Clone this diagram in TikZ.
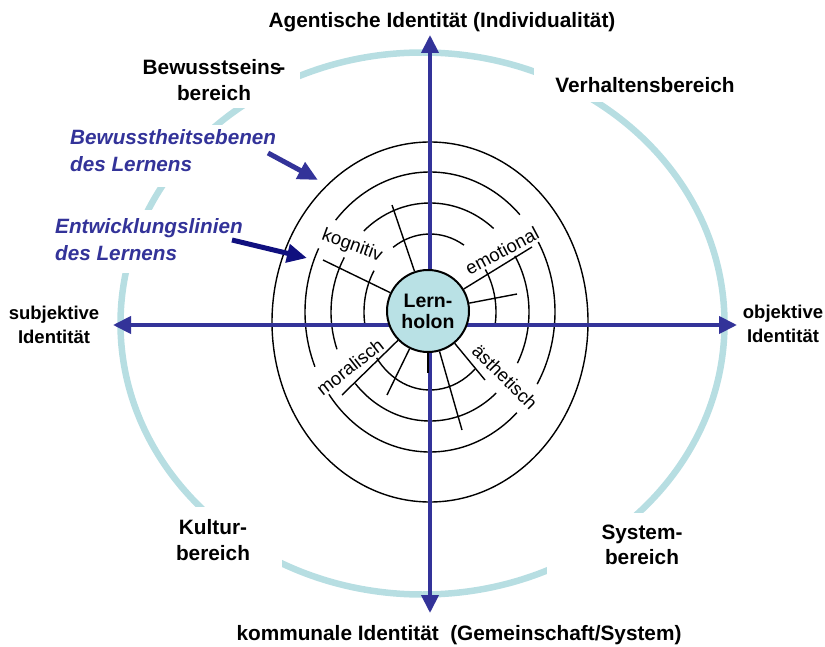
\documentclass[tikz,border=0pt]{standalone}
\usepackage{fontspec}
\setmainfont{Liberation Sans}
\usetikzlibrary{arrows.meta}
\definecolor{axisblue}{HTML}{333399}
\definecolor{navyarrow}{HTML}{10107F}
\definecolor{ringcyan}{HTML}{B7DEE2}
\definecolor{holonfill}{HTML}{B9E1E5}

% one arc of a level ring around the holon, angles counted counter-clockwise
\newcommand\levelarc[4]{%
  \draw[ring] ({430+#1*cos(#3)},{312-#2*sin(#3)})
    arc[start angle=-#3, end angle=-#4, x radius=#1, y radius=#2];}

\begin{document}
\begin{tikzpicture}[x=1pt,y=-1pt,
  arealbl/.style={font=\fontsize{20.8}{25.5}\selectfont\bfseries, align=center, inner sep=0pt},
  polelbl/.style={font=\fontsize{18.5}{24}\selectfont\bfseries, align=center, inner sep=0pt},
  bluelbl/.style={font=\fontsize{20.7}{27}\selectfont\bfseries\itshape, text=axisblue, align=left, inner sep=0pt, anchor=west},
  linelbl/.style={font=\fontsize{18.5}{20}\selectfont, inner sep=0pt},
  axisline/.style={draw=axisblue, line width=4pt, {Triangle[length=18pt,width=17pt]}-{Triangle[length=18pt,width=17pt]}},
  ring/.style={draw=black, line width=1.4pt},
  spoke/.style={draw=black, line width=1.4pt},
  pointer/.style={line width=5pt, -{Triangle[length=20pt,width=18pt]}},
  cutout/.style={fill=white}
]
\useasboundingbox (0,0) rectangle (825,647);

% outer domain ellipse
\draw[ringcyan, line width=6.5pt] (422.5,323.5) ellipse [x radius=302, y radius=271];

% white boxes behind the quadrant and side labels break the ellipse
\fill[cutout] (130,50) rectangle (300,108);
\fill[cutout] (534,60) rectangle (760,102);
\fill[cutout] (150,507) rectangle (282,580);
\fill[cutout] (547,513) rectangle (700,590);
\fill[cutout] (50,125) rectangle (285,187);
\fill[cutout] (40,210) rectangle (250,273);

% levels of awareness: closed outer level, inner levels broken at the line labels
\draw[ring] (430,322) ellipse [x radius=158, y radius=180];
\levelarc{125}{140}{44}{139}
\levelarc{125}{140}{153}{203}
\levelarc{125}{140}{216}{314}
\levelarc{125}{140}{329}{390}
\levelarc{99}{109}{50}{132}
\levelarc{99}{109}{150}{200}
\levelarc{99}{109}{221}{312}
\levelarc{99}{109}{332}{391}
\levelarc{66}{78}{59}{124}
\levelarc{66}{78}{148}{190}
\levelarc{66}{78}{216}{313}
\levelarc{66}{78}{349}{393}

% identity axes
\coordinate (axN) at (430,35);
\coordinate (axS) at (430,613);
\coordinate (axW) at (113,325);
\coordinate (axE) at (737,325);
\draw[axisline] (axS) -- (axN);
\draw[axisline] (axW) -- (axE);

% development lines
\node[linelbl, rotate=-20] (kog) at (352,246) {kognitiv};
\node[linelbl, rotate=28] (emo) at (502,251) {emotional};
\node[linelbl, rotate=38] (mor) at (350,367) {moralisch};
\node[linelbl, rotate=-45] (aes) at (505,377) {ästhetisch};

% central holon
\node[circle, draw=black, line width=2pt, fill=holonfill, minimum size=82pt, inner sep=0pt,
      font=\fontsize{19.5}{21}\selectfont\bfseries, align=center] (lh) at (428,311) {Lern-\\holon};

\coordinate (s1) at (392,205);
\coordinate (s2) at (323,260);
\coordinate (s3) at (532,247);
\coordinate (s4) at (517,294);
\coordinate (s5) at (342,395);
\coordinate (s6) at (387,395);
\coordinate (s7) at (428,373);
\coordinate (s8) at (462,430);
\coordinate (s9) at (485,380);
\foreach \s in {s1,s2,s3,s4,s5,s6,s7,s8,s9}
  \draw[spoke] (lh) -- (\s);

% axis and quadrant labels
\node[arealbl] (agent) at (442,22) {Agentische Identität (Individualität)};
\node[arealbl] (komm) at (459,635) {kommunale Identität\ \ (Gemeinschaft/System)};
\node[polelbl] (subj) at (54,325) {subjektive\\Identität};
\node[polelbl] (obj) at (783,324) {objektive\\Identität};
\node[arealbl] (bew) at (214,80) {Bewusstseins\kern-3pt-\\bereich};
\node[arealbl] (verh) at (645,85) {Verhaltensbereich};
\node[arealbl] (kult) at (213,540) {Kultur-\\bereich};
\node[arealbl] (syst) at (642,545) {System-\\bereich};

% explanatory labels with pointers
\node[bluelbl] (bwt) at (70,151) {Bewusstheitsebenen\\des Lernens};
\node[bluelbl] (ent) at (55,240) {Entwicklungslinien\\des Lernens};
\coordinate (bwA) at (268,153);
\coordinate (bwB) at (318,180);
\coordinate (enA) at (232,240);
\coordinate (enB) at (307,258);
\draw[pointer, axisblue] (bwA) -- (bwB);
\draw[pointer, navyarrow] (enA) -- (enB);
\end{tikzpicture}
\end{document}
